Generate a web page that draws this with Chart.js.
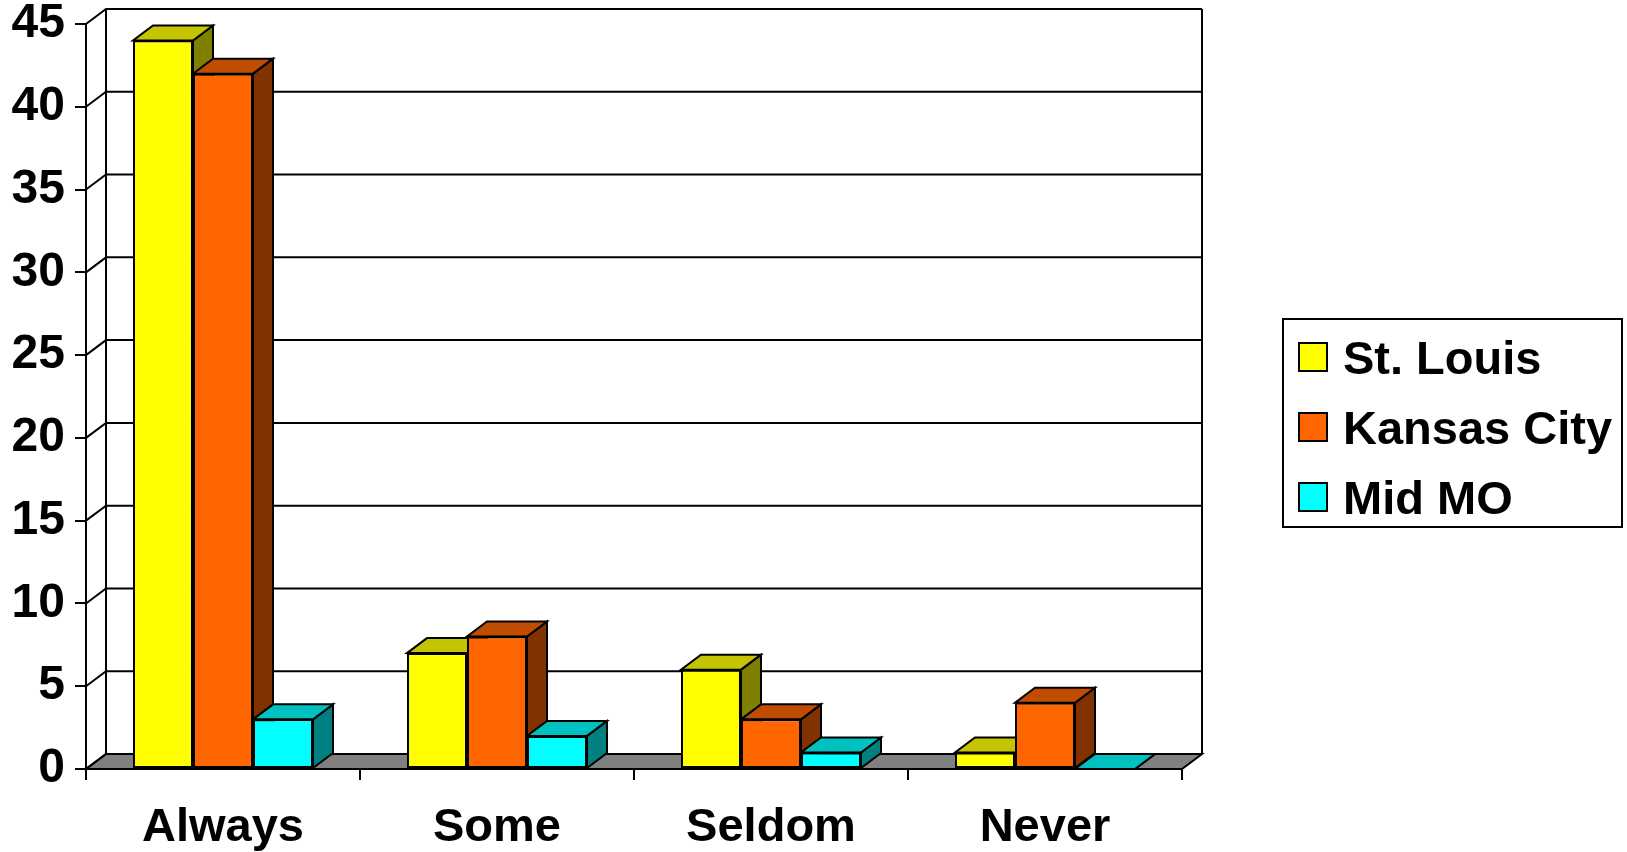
<!DOCTYPE html>
<html>
<head>
<meta charset="utf-8">
<title>Survey by region</title>
<script src="https://cdn.jsdelivr.net/npm/chart.js@4.4.0/dist/chart.umd.min.js"></script>
<style>
  body { margin: 0; background: #fff; }
  #wrap { position: relative; width: 1627px; height: 852px; }
  #legend {
    position: absolute; left: 1282px; top: 318px;
    width: 337px; height: 206px;
    border: 2px solid #000;
    font: bold 47px "Liberation Sans", Arial, sans-serif;
    color: #000;
  }
  .item { position: absolute; left: 14px; height: 70px; display: flex; align-items: center; white-space: nowrap; }
  .swatch { box-sizing: border-box; width: 30px; height: 30px; border: 2px solid #000; margin-right: 15px; }
</style>
</head>
<body>
<div id="wrap">
  <canvas id="chart" width="1627" height="852"></canvas>
  <div id="legend"></div>
</div>
<script>
// Data
const categories = ['Always', 'Some', 'Seldom', 'Never'];
const seriesNames = ['St. Louis', 'Kansas City', 'Mid MO'];
const stLouis = [44, 7, 6, 1];
const kansasCity = [42, 8, 3, 4];
const midMO = [3, 2, 1, 0];
const yMax = 45;
const yStep = 5;

// Colours: front, top, side
const frontColors = ['#ffff00', '#ff6600', '#00ffff'];
const topColors = ['#c4c400', '#c04c00', '#00c0c0'];
const sideColors = ['#808000', '#803300', '#008080'];

const FONT = '"Liberation Sans", Arial, sans-serif';
const DX = 20, DY = -15;   // depth offset of the 3D box

// Draws the walls, floor and the top/side faces of each bar
const depthPlugin = {
    id: 'depth3d',
    beforeDatasetsDraw(chart) {
        const { ctx, chartArea: a, scales: { y } } = chart;
        ctx.save();
        ctx.lineWidth = 2;
        ctx.strokeStyle = '#000';

        // floor
        ctx.beginPath();
        ctx.moveTo(a.left, a.bottom);
        ctx.lineTo(a.right, a.bottom);
        ctx.lineTo(a.right + DX, a.bottom + DY);
        ctx.lineTo(a.left + DX, a.bottom + DY);
        ctx.closePath();
        ctx.fillStyle = '#808080';
        ctx.fill();
        ctx.stroke();

        // gridlines on the back wall + diagonals on the side wall
        y.ticks.forEach(t => {
            const py = y.getPixelForValue(t.value);
            ctx.beginPath();
            ctx.moveTo(a.left, py);
            ctx.lineTo(a.left + DX, py + DY);
            if (t.value !== 0) ctx.lineTo(a.right + DX, py + DY);
            ctx.stroke();
        });

        // back wall edges
        ctx.beginPath();
        ctx.moveTo(a.left + DX, a.top + DY);
        ctx.lineTo(a.left + DX, a.bottom + DY);
        ctx.moveTo(a.right + DX, a.top + DY);
        ctx.lineTo(a.right + DX, a.bottom + DY);
        ctx.stroke();

        // bar tops and sides, left to right
        const metas = chart.data.datasets.map((d, i) => chart.getDatasetMeta(i));
        for (let j = 0; j < categories.length; j++) {
            metas.forEach((meta, i) => {
                const el = meta.data[j];
                if (!el) return;
                const p = el.getProps(['x', 'y', 'base', 'width'], true);
                const left = p.x - p.width / 2;
                const right = p.x + p.width / 2;

                // side
                ctx.beginPath();
                ctx.moveTo(right, p.y);
                ctx.lineTo(right + DX, p.y + DY);
                ctx.lineTo(right + DX, p.base + DY);
                ctx.lineTo(right, p.base);
                ctx.closePath();
                ctx.fillStyle = sideColors[i];
                ctx.fill();
                ctx.stroke();

                // top
                ctx.beginPath();
                ctx.moveTo(left, p.y);
                ctx.lineTo(right, p.y);
                ctx.lineTo(right + DX, p.y + DY);
                ctx.lineTo(left + DX, p.y + DY);
                ctx.closePath();
                ctx.fillStyle = topColors[i];
                ctx.fill();
                ctx.stroke();
            });
        }
        ctx.restore();
    }
};

const seriesValues = [stLouis, kansasCity, midMO];

const chart = new Chart(document.getElementById('chart'), {
    type: 'bar',
    data: {
        labels: categories,
        datasets: seriesNames.map((name, i) => ({
            label: name,
            data: seriesValues[i],
            backgroundColor: frontColors[i],
            borderColor: '#000',
            borderWidth: 2,
            borderSkipped: false,
            categoryPercentage: 0.657,
            barPercentage: 1,
            clip: false
        }))
    },
    options: {
        responsive: false,
        animation: false,
        events: [],
        layout: { padding: { left: 0, top: 24, right: 445, bottom: 0 } },
        plugins: {
            legend: { display: false },
            tooltip: { enabled: false }
        },
        scales: {
            x: {
                grid: { drawOnChartArea: false, tickLength: 11, color: '#000', lineWidth: 2, offset: true },
                border: { color: '#000', width: 2 },
                ticks: {
                    color: '#000',
                    padding: 25,
                    maxRotation: 0,
                    font: { family: FONT, size: 47, weight: 'bold', lineHeight: 1 }
                },
                afterFit(scale) { scale.height = 83; }
            },
            y: {
                min: 0,
                max: yMax,
                grid: { drawOnChartArea: false, tickLength: 11, color: '#000', lineWidth: 2 },
                border: { color: '#000', width: 2 },
                ticks: {
                    stepSize: yStep,
                    color: '#000',
                    padding: 10,
                    font: { family: FONT, size: 48, weight: 'bold', lineHeight: 1 }
                },
                afterFit(scale) {
                    scale.width = 86;
                    scale.paddingTop = 0;
                    scale.paddingBottom = 0;
                }
            }
        }
    },
    plugins: [depthPlugin]
});

// HTML legend
const legend = document.getElementById('legend');
seriesNames.forEach((name, i) => {
    const item = document.createElement('div');
    item.className = 'item';
    item.style.top = (2 + i * 70) + 'px';
    item.innerHTML = `<span class="swatch" style="background:${frontColors[i]}"></span><span>${name}</span>`;
    legend.appendChild(item);
});
</script>
</body>
</html>
